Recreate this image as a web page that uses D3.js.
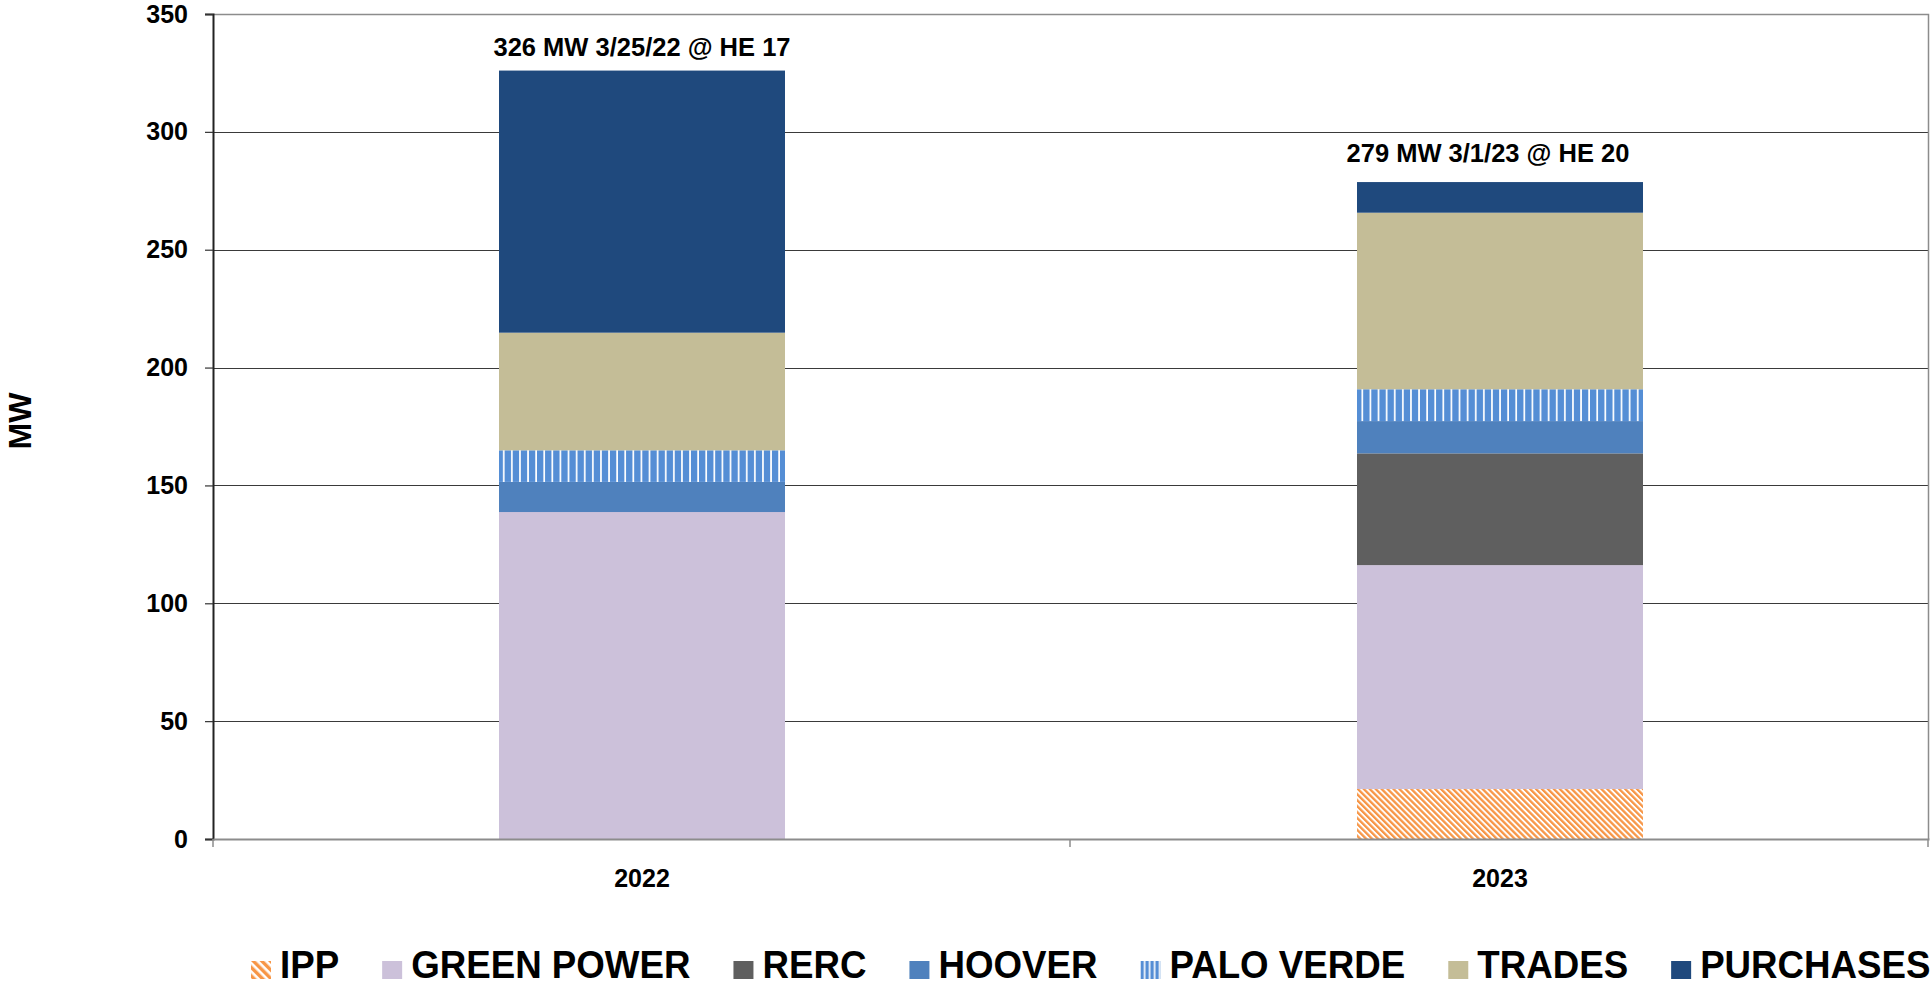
<!DOCTYPE html>
<html>
<head>
<meta charset="utf-8">
<script src="https://cdn.jsdelivr.net/npm/d3@7"></script>
<style>
  body { margin: 0; background: #fff; }
  text { font-family: 'Liberation Sans', Arial, sans-serif; font-weight: bold; fill: #000; }
</style>
</head>
<body>
<div class="chart"></div>
<script>
// data (MW)
const years = ['2022', '2023']
const seriesNames = ['IPP', 'GREEN POWER', 'RERC', 'HOOVER', 'PALO VERDE', 'TRADES', 'PURCHASES']
const ipp = [0, 21.2]
const greenPower = [138.7, 95]
const rerc = [0, 47.4]
const hoover = [12.8, 13.7]
const paloVerde = [13.4, 13.5]
const trades = [49.9, 74.9]
const purchases = [111.2, 13]
const peakLabels = ['326 MW 3/25/22 @ HE 17', '279 MW 3/1/23 @ HE 20']
const yTicks = [0, 50, 100, 150, 200, 250, 300, 350]

// colours / fills per series
const fills = ['url(#ippPat)', '#CCC1DA', '#5F5F5F', '#4F81BD', 'url(#pvPat)', '#C4BD97', '#1F497D']
const legendFills = ['url(#ippPatL)', '#CCC1DA', '#5F5F5F', '#4F81BD', 'url(#pvPatL)', '#C4BD97', '#1F497D']
// small nudges for the peak labels (style only)
const labelDx = [0, -12]
const labelDy = [-15, -20]

const fullWidth = 1931
const fullHeight = 987
const margin = {top: 14, right: 2, bottom: 148, left: 213}
const width = fullWidth - margin.left - margin.right
const height = fullHeight - margin.top - margin.bottom

const root = d3.select('.chart')
  .append('svg')
    .attr('width', fullWidth)
    .attr('height', fullHeight)

// patterns
const defs = root.append('defs')

function stripes(id, size, stripeW, color, angle) {
  const p = defs.append('pattern')
    .attr('id', id)
    .attr('patternUnits', 'userSpaceOnUse')
    .attr('width', size)
    .attr('height', size)
  if (angle) p.attr('patternTransform', `rotate(${angle})`)
  p.append('rect').attr('width', size).attr('height', size).attr('fill', color)
  p.append('rect').attr('x', size - stripeW).attr('width', stripeW).attr('height', size).attr('fill', '#fff')
}
stripes('ippPat', 4.2, 1.9, '#F79646', -45)
stripes('ippPatL', 6, 2.6, '#F79646', -45)
stripes('pvPat', 8.1, 1.7, '#558ED5', 0)
stripes('pvPatL', 5, 1.6, '#558ED5', 0)

const svg = root.append('g')
    .attr('transform', `translate(${margin.left}, ${margin.top})`)

const rows = years.map((y, i) => ({
  year: y,
  'IPP': ipp[i],
  'GREEN POWER': greenPower[i],
  'RERC': rerc[i],
  'HOOVER': hoover[i],
  'PALO VERDE': paloVerde[i],
  'TRADES': trades[i],
  'PURCHASES': purchases[i]
}))

const stacked = d3.stack().keys(seriesNames)(rows)

const xScale = d3.scaleBand()
  .domain(years)
  .range([0, width])
  .padding(0)

const yScale = d3.scaleLinear()
  .domain([0, 350])
  .range([height, 0])

const barW = xScale.bandwidth() / 3

// gridlines
svg.append('g')
  .selectAll('line')
  .data(yTicks.filter(t => t > 0 && t < 350))
  .enter()
  .append('line')
    .attr('x1', 0)
    .attr('x2', width)
    .attr('y1', d => Math.round(yScale(d)) + 0.5)
    .attr('y2', d => Math.round(yScale(d)) + 0.5)
    .style('stroke', '#3a3a3a')
    .style('stroke-width', 1)

// plot border top + right
svg.append('path')
  .attr('d', `M0,${yScale(350) + 0.5}H${width - 0.5}V${height}`)
  .style('fill', 'none')
  .style('stroke', '#8c8c8c')
  .style('stroke-width', 1.5)

// bars
svg.selectAll('.layer')
  .data(stacked)
  .enter()
  .append('g')
    .attr('class', 'layer')
    .style('fill', (d, i) => fills[i])
  .selectAll('rect')
  .data(d => d)
  .enter()
  .append('rect')
    .attr('x', d => xScale(d.data.year) + (xScale.bandwidth() - barW) / 2)
    .attr('width', barW)
    .attr('y', d => yScale(d[1]))
    .attr('height', d => yScale(d[0]) - yScale(d[1]))

// peak labels above each bar
const totals = rows.map(r => d3.sum(seriesNames, k => r[k]))
svg.selectAll('.peak')
  .data(years)
  .enter()
  .append('text')
    .attr('class', 'peak')
    .attr('x', (d, i) => xScale(d) + xScale.bandwidth() / 2 + labelDx[i])
    .attr('y', (d, i) => yScale(totals[i]) + labelDy[i])
    .attr('text-anchor', 'middle')
    .style('font-size', '25.5px')
    .text((d, i) => peakLabels[i])

// y axis
const yAxis = svg.append('g')
  .call(d3.axisLeft(yScale).tickValues(yTicks).tickSize(8).tickPadding(17))
yAxis.select('.domain').style('stroke', '#222').style('stroke-width', 2)
yAxis.selectAll('.tick line').style('stroke', '#333').style('stroke-width', 1.2)
yAxis.selectAll('text').style('font-size', '25px').style('font-family', null)

// x axis: line + ticks at band edges, labels at centres
const xAxis = svg.append('g')
  .attr('transform', `translate(0, ${height})`)
  .call(d3.axisBottom(xScale).tickSize(0).tickPadding(30))
xAxis.select('.domain').style('stroke', '#8c8c8c').style('stroke-width', 2)
xAxis.selectAll('text').style('font-size', '25px').style('font-family', null)

svg.append('g')
  .attr('transform', `translate(0, ${height})`)
  .selectAll('line')
  .data([0, ...years.map(y => xScale(y) + xScale.bandwidth())])
  .enter()
  .append('line')
    .attr('x1', d => d === 0 ? 0 : d - 1)
    .attr('x2', d => d === 0 ? 0 : d - 1)
    .attr('y1', 0)
    .attr('y2', 8)
    .style('stroke', '#8c8c8c')
    .style('stroke-width', 1.5)

// y axis title
root.append('text')
  .attr('transform', 'translate(31, 421) rotate(-90)')
  .attr('text-anchor', 'middle')
  .style('font-size', '32px')
  .text('MW')

// legend, laid out left to right
const legend = root.append('g')
  .attr('transform', 'translate(251, 978)')

let cursor = 0
seriesNames.forEach((name, i) => {
  const item = legend.append('g').attr('transform', `translate(${cursor}, 0)`)
  item.append('rect')
    .attr('x', 0)
    .attr('y', -17)
    .attr('width', 20)
    .attr('height', 18)
    .style('fill', legendFills[i])
  const t = item.append('text')
    .attr('transform', 'translate(29, 0) scale(1, 1.08)')
    .style('font-size', '36.7px')
    .text(name)
  cursor += 29 + t.node().getComputedTextLength() + 43
})
</script>
</body>
</html>
